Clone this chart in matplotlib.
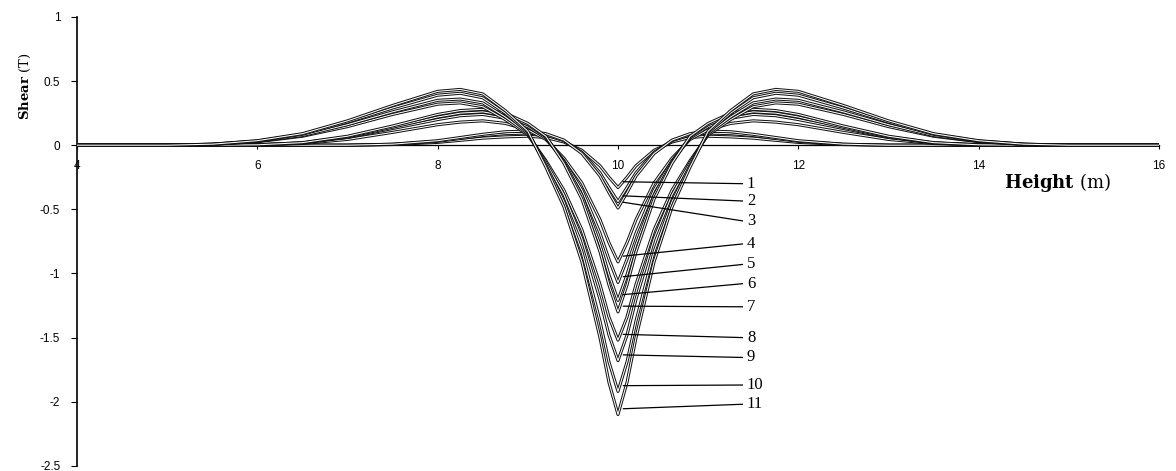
import matplotlib
matplotlib.use("Agg")
import matplotlib.pyplot as plt

# height positions (m)
height = [4, 5, 5.5, 6, 6.5, 7, 7.5, 8, 8.25, 8.5, 8.75, 9, 9.2, 9.4, 9.6, 9.8, 9.9,
          10,
          10.1, 10.2, 10.4, 10.6, 10.8, 11, 11.25, 11.5, 11.75, 12, 12.5, 13, 13.5, 14, 14.5, 15, 16]

# shear (T) for the 11 cases
shear_1 = [0, 0, 0, 0, 0, 0, 0.005, 0.022, 0.038, 0.055, 0.065, 0.07, 0.06, 0.025, -0.04, -0.16, -0.25,
           -0.33,
           -0.25, -0.16, -0.04, 0.025, 0.06, 0.07, 0.065, 0.055, 0.038, 0.022, 0.005, 0, 0, 0, 0, 0, 0]
shear_2 = [0, 0, 0, 0, 0, 0, 0.007, 0.03, 0.052, 0.075, 0.09, 0.095, 0.08, 0.035, -0.055, -0.215, -0.33,
           -0.44,
           -0.33, -0.215, -0.055, 0.035, 0.08, 0.095, 0.09, 0.075, 0.052, 0.03, 0.007, 0, 0, 0, 0, 0, 0]
shear_3 = [0, 0, 0, 0, 0, 0, 0.008, 0.035, 0.06, 0.085, 0.105, 0.11, 0.09, 0.04, -0.065, -0.24, -0.37,
           -0.49,
           -0.37, -0.24, -0.065, 0.04, 0.09, 0.11, 0.105, 0.085, 0.06, 0.035, 0.008, 0, 0, 0, 0, 0, 0]
shear_4 = [0, 0, 0, 0.002, 0.013, 0.045, 0.10, 0.16, 0.18, 0.19, 0.17, 0.12, 0.045, -0.10, -0.295, -0.58, -0.76,
           -0.91,
           -0.76, -0.58, -0.295, -0.10, 0.045, 0.12, 0.17, 0.19, 0.18, 0.16, 0.10, 0.045, 0.013, 0.002, 0, 0, 0]
shear_5 = [0, 0, 0, 0.003, 0.017, 0.06, 0.13, 0.20, 0.23, 0.24, 0.21, 0.145, 0.055, -0.12, -0.35, -0.685, -0.89,
           -1.07,
           -0.89, -0.685, -0.35, -0.12, 0.055, 0.145, 0.21, 0.24, 0.23, 0.20, 0.13, 0.06, 0.017, 0.003, 0, 0, 0]
shear_6 = [0, 0, 0, 0.003, 0.018, 0.065, 0.14, 0.22, 0.25, 0.26, 0.23, 0.16, 0.065, -0.13, -0.39, -0.775, -1.01,
           -1.21,
           -1.01, -0.775, -0.39, -0.13, 0.065, 0.16, 0.23, 0.26, 0.25, 0.22, 0.14, 0.065, 0.018, 0.003, 0, 0, 0]
shear_7 = [0, 0, 0, 0.003, 0.02, 0.07, 0.15, 0.24, 0.27, 0.28, 0.25, 0.17, 0.07, -0.14, -0.42, -0.83, -1.09,
           -1.30,
           -1.09, -0.83, -0.42, -0.14, 0.07, 0.17, 0.25, 0.28, 0.27, 0.24, 0.15, 0.07, 0.02, 0.003, 0, 0, 0]
shear_8 = [0, 0, 0.006, 0.027, 0.07, 0.145, 0.24, 0.32, 0.33, 0.30, 0.20, 0.08, -0.12, -0.35, -0.66, -1.085, -1.34,
           -1.52,
           -1.34, -1.085, -0.66, -0.35, -0.12, 0.08, 0.20, 0.30, 0.33, 0.32, 0.24, 0.145, 0.07, 0.027, 0.006, 0, 0]
shear_9 = [0, 0, 0.007, 0.03, 0.075, 0.16, 0.26, 0.35, 0.36, 0.33, 0.22, 0.09, -0.135, -0.385, -0.73, -1.20, -1.48,
           -1.68,
           -1.48, -1.20, -0.73, -0.385, -0.135, 0.09, 0.22, 0.33, 0.36, 0.35, 0.26, 0.16, 0.075, 0.03, 0.007, 0, 0]
shear_10 = [0, 0, 0.008, 0.033, 0.085, 0.18, 0.29, 0.39, 0.405, 0.37, 0.25, 0.10, -0.155, -0.44, -0.83, -1.37, -1.69,
            -1.92,
            -1.69, -1.37, -0.83, -0.44, -0.155, 0.10, 0.25, 0.37, 0.405, 0.39, 0.29, 0.18, 0.085, 0.033, 0.008, 0, 0]
shear_11 = [0, 0, 0.008, 0.035, 0.09, 0.19, 0.31, 0.42, 0.435, 0.40, 0.27, 0.11, -0.17, -0.48, -0.91, -1.50, -1.85,
            -2.10,
            -1.85, -1.50, -0.91, -0.48, -0.17, 0.11, 0.27, 0.40, 0.435, 0.42, 0.31, 0.19, 0.09, 0.035, 0.008, 0, 0]

curves = [shear_1, shear_2, shear_3, shear_4, shear_5, shear_6,
          shear_7, shear_8, shear_9, shear_10, shear_11]
curve_labels = ["1", "2", "3", "4", "5", "6", "7", "8", "9", "10", "11"]
# vertical position of each number at the right of the dip
label_y = [-0.30, -0.435, -0.59, -0.77, -0.93, -1.08, -1.26, -1.50, -1.655, -1.87, -2.02]

y_ticks = [-2.5, -2, -1.5, -1, -0.5, 0, 0.5, 1]
y_tick_labels = ["-2.5", "-2", "-1.5", "-1", "-0.5", "0", "0.5", "1"]
x_ticks = [4, 6, 8, 10, 12, 14, 16]

plt.rcParams["axes.unicode_minus"] = False
plt.rcParams["mathtext.fontset"] = "dejavuserif"

fig = plt.figure(figsize=(11.76, 4.71), dpi=100)
ax = fig.add_axes([0.0655, 0.011, 0.92, 0.953])

# hollow looking lines: dark outline with a white core
for ys in curves:
    ax.plot(height, ys, color="#111111", lw=2.2, solid_joinstyle="round", zorder=3)
    ax.plot(height, ys, color="white", lw=0.75, solid_joinstyle="round", zorder=3)

for ys, lab, ly in zip(curves, curve_labels, label_y):
    ax.plot([10.06, 11.38], [min(ys) + 0.045, ly], color="black", lw=0.9, zorder=4)
    ax.text(11.43, ly, lab, fontfamily="Liberation Serif", fontsize=12,
            ha="left", va="center")

ax.set_xlim(4, 16)
ax.set_ylim(-2.5, 1)
ax.spines["top"].set_visible(False)
ax.spines["right"].set_visible(False)
ax.spines["bottom"].set_position(("data", 0))
ax.spines["bottom"].set_linewidth(0.9)
ax.spines["left"].set_linewidth(1.2)

ax.set_xticks(x_ticks)
ax.set_xticklabels([str(v) for v in x_ticks])
ax.set_yticks(y_ticks)
ax.set_yticklabels(y_tick_labels)
ax.tick_params(axis="x", direction="out", length=3, width=0.8, pad=8)
ax.tick_params(axis="y", direction="out", length=4, width=0.8, pad=8)
for t in ax.get_xticklabels() + ax.get_yticklabels():
    t.set_fontfamily("Liberation Sans")
    t.set_fontsize(8.5)

ax.text(14.87, -0.29, r"$\mathbf{Height}$ (m)", fontfamily="DejaVu Serif",
        fontsize=13, ha="center", va="center")
fig.text(25 / 1176, 1 - 86 / 471, r"$\mathbf{Shear}$ (T)", fontfamily="DejaVu Serif",
         fontsize=9.5, rotation=90, ha="center", va="center")

fig.savefig("out.png", dpi=100)
